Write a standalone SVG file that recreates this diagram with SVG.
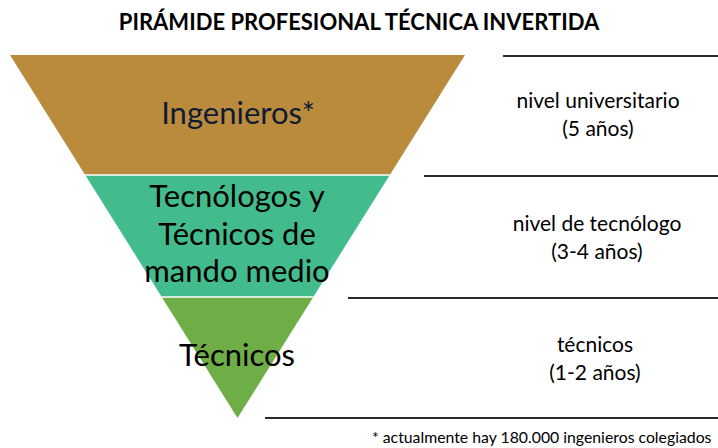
<svg xmlns="http://www.w3.org/2000/svg" width="718" height="448" viewBox="0 0 718 448">
<style>
.t{font-family:Lato,"Open Sans","DejaVu Sans",sans-serif;text-anchor:middle}
.big{font-size:31px;fill:#000}
.side{font-size:21px;fill:#000}
.rule{stroke:#2b2b2b;stroke-width:2}
.sep{stroke:#ffffff;stroke-width:1.5}
</style>
<rect width="718" height="448" fill="#ffffff"/>
<text class="t" x="359" y="30" style="font-size:22px;font-weight:bold" fill="#000">PIRÁMIDE PROFESIONAL TÉCNICA INVERTIDA</text>
<g id="ingenieros">
<polygon points="10,55 465,55 389.8,175 85.2,175" fill="#BA8B3C"/>
<text class="t big" x="238" y="124" style="fill:#0F1B33">Ingenieros*</text>
</g>
<g id="tecnologos">
<polygon points="85.2,175 389.8,175 313.3,297 161.7,297" fill="#43BC8D"/>
<text class="t big" x="237" y="207">Tecnólogos y</text>
<text class="t big" x="237" y="245">Técnicos de</text>
<text class="t big" x="237" y="282">mando medio</text>
</g>
<g id="tecnicos">
<polygon points="161.7,297 313.3,297 237.5,418" fill="#6FAD47"/>
<text class="t big" x="237" y="366">Técnicos</text>
</g>
<g id="separadores">
<line class="sep" x1="85.2" y1="175" x2="389.8" y2="175"/>
<line class="sep" x1="161.7" y1="297" x2="313.3" y2="297"/>
</g>
<g id="connectors">
<line class="rule" x1="503" y1="56" x2="718" y2="56"/>
<line class="rule" x1="424" y1="176" x2="718" y2="176"/>
<line class="rule" x1="348" y1="298" x2="718" y2="298"/>
<line class="rule" x1="265" y1="418" x2="718" y2="418"/>
</g>
<g id="nivel-universitario">
<text class="t side" x="598" y="108">nivel universitario</text>
<text class="t side" x="598" y="136">(5 años)</text>
</g>
<g id="nivel-tecnologo">
<text class="t side" x="597" y="231">nivel de tecnólogo</text>
<text class="t side" x="597" y="259">(3-4 años)</text>
</g>
<g id="nivel-tecnicos">
<text class="t side" x="595" y="352">técnicos</text>
<text class="t side" x="595" y="380">(1-2 años)</text>
</g>
<text x="372" y="443" style="font-family:Lato,'Open Sans',sans-serif;font-size:15.8px" fill="#000">* actualmente hay 180.000 ingenieros colegiados</text>
</svg>
